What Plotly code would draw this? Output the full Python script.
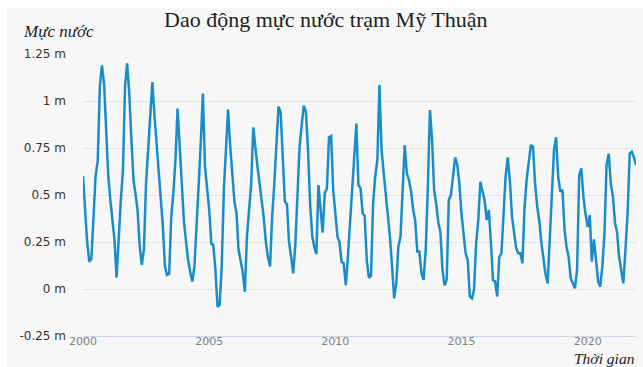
import pandas as pd
import plotly.graph_objects as go

# Monthly mean water level (m) at My Thuan station, January to December of each year
lv_2000 = [0.60, 0.42, 0.25, 0.145, 0.16, 0.38, 0.60, 0.68, 1.08, 1.19, 1.09, 0.85]
lv_2001 = [0.60, 0.47, 0.35, 0.26, 0.06, 0.31, 0.47, 0.63, 1.08, 1.20, 1.04, 0.80]
lv_2002 = [0.58, 0.50, 0.42, 0.225, 0.128, 0.21, 0.56, 0.74, 0.92, 1.10, 0.92, 0.78]
lv_2003 = [0.63, 0.50, 0.34, 0.12, 0.075, 0.08, 0.38, 0.51, 0.69, 0.96, 0.74, 0.53]
lv_2004 = [0.36, 0.25, 0.155, 0.09, 0.04, 0.12, 0.31, 0.55, 0.78, 1.04, 0.65, 0.53]
lv_2005 = [0.42, 0.24, 0.235, 0.10, -0.094, -0.085, 0.12, 0.53, 0.775, 0.955, 0.76, 0.60]
lv_2006 = [0.465, 0.40, 0.21, 0.15, 0.09, -0.015, 0.28, 0.42, 0.56, 0.86, 0.74, 0.65]
lv_2007 = [0.56, 0.47, 0.38, 0.25, 0.17, 0.12, 0.385, 0.56, 0.74, 0.97, 0.94, 0.69]
lv_2008 = [0.465, 0.45, 0.25, 0.17, 0.083, 0.24, 0.49, 0.757, 0.87, 0.975, 0.943, 0.74]
lv_2009 = [0.45, 0.28, 0.225, 0.186, 0.553, 0.44, 0.30, 0.51, 0.535, 0.807, 0.814, 0.527]
lv_2010 = [0.40, 0.278, 0.25, 0.145, 0.137, 0.02, 0.17, 0.35, 0.51, 0.70, 0.88, 0.553]
lv_2011 = [0.535, 0.40, 0.39, 0.15, 0.06, 0.07, 0.45, 0.60, 0.686, 1.085, 0.74, 0.62]
lv_2012 = [0.51, 0.385, 0.278, 0.12, -0.05, 0.03, 0.225, 0.278, 0.55, 0.766, 0.615, 0.58]
lv_2013 = [0.52, 0.42, 0.367, 0.199, 0.199, 0.083, 0.048, 0.207, 0.544, 0.952, 0.793, 0.527]
lv_2014 = [0.45, 0.35, 0.305, 0.10, 0.02, 0.05, 0.473, 0.50, 0.60, 0.70, 0.66, 0.56]
lv_2015 = [0.40, 0.28, 0.19, 0.154, -0.04, -0.05, -0.005, 0.243, 0.367, 0.57, 0.518, 0.473]
lv_2016 = [0.367, 0.42, 0.25, 0.048, 0.04, -0.04, 0.17, 0.19, 0.40, 0.60, 0.70, 0.578]
lv_2017 = [0.385, 0.30, 0.22, 0.19, 0.19, 0.137, 0.43, 0.58, 0.68, 0.766, 0.757, 0.56]
lv_2018 = [0.44, 0.36, 0.25, 0.15, 0.08, 0.03, 0.25, 0.52, 0.74, 0.807, 0.598, 0.518]
lv_2019 = [0.527, 0.314, 0.225, 0.17, 0.057, 0.03, 0.004, 0.10, 0.606, 0.642, 0.49, 0.40]
lv_2020 = [0.33, 0.394, 0.145, 0.264, 0.17, 0.04, 0.012, 0.12, 0.30, 0.66, 0.72, 0.56]
lv_2021 = [0.49, 0.35, 0.305, 0.17, 0.10, 0.03, 0.207, 0.40, 0.72, 0.73, 0.70, 0.66]

yearly = [lv_2000, lv_2001, lv_2002, lv_2003, lv_2004, lv_2005, lv_2006, lv_2007,
          lv_2008, lv_2009, lv_2010, lv_2011, lv_2012, lv_2013, lv_2014, lv_2015,
          lv_2016, lv_2017, lv_2018, lv_2019, lv_2020, lv_2021]
levels = [v for year in yearly for v in year]
months = pd.date_range("2000-01-01", periods=len(levels), freq="MS")

# Axis ticks
y_ticks = [-0.25, 0, 0.25, 0.5, 0.75, 1, 1.25]
y_labels = ["-0.25 m", "0 m", "0.25 m", "0.5 m", "0.75 m", "1 m", "1.25 m"]
x_ticks = ["2000-01-01", "2005-01-01", "2010-01-01", "2015-01-01", "2020-01-01"]
x_labels = ["2000", "2005", "2010", "2015", "2020"]

W, H = 643, 367
L, R, T, B = 83, 7, 54, 31
pw, ph = W - L - R, H - T - B


def px(x):
    return (x - L) / pw


def py(y):
    return (H - B - y) / ph


fig = go.Figure(
    go.Scatter(
        x=months, y=levels, mode="lines",
        line=dict(color="#1a8dc9", width=2.5),
        hoverinfo="x+y",
    )
)

serif = "Liberation Serif"
fig.update_layout(
    width=W, height=H,
    margin=dict(l=L, r=R, t=T, b=B, pad=0),
    paper_bgcolor="white",
    plot_bgcolor="rgba(0,0,0,0)",
    showlegend=False,
    shapes=[
        dict(type="rect", xref="paper", yref="paper", layer="below",
             x0=px(7), x1=px(W + 2), y0=py(H + 2), y1=py(8),
             fillcolor="#f7f7f7", line=dict(width=0)),
    ],
    annotations=[
        dict(text="Dao động mực nước trạm Mỹ Thuận", xref="paper", yref="paper",
             x=px(325), y=py(20), xanchor="center", yanchor="middle", showarrow=False,
             font=dict(family=serif, size=22, color="#222222")),
        dict(text="<i>Mực nước</i>", xref="paper", yref="paper",
             x=px(21), y=py(31), xanchor="left", yanchor="middle", showarrow=False,
             font=dict(family=serif, size=17, color="#222222")),
        dict(text="<i>Thời gian</i>", xref="paper", yref="paper",
             x=px(637), y=py(358), xanchor="right", yanchor="middle", showarrow=False,
             font=dict(family=serif, size=15.5, color="#222222")),
    ],
)

fig.update_xaxes(
    type="date", range=[months[0], months[-1]],
    tickvals=x_ticks, ticktext=x_labels,
    showgrid=False, zeroline=False,
    showline=True, linecolor="#ccd6eb", linewidth=1,
    ticks="outside", ticklen=5, tickcolor="#ccd6eb",
    ticklabelstandoff=-10,
    tickfont=dict(family="DejaVu Sans", size=11, color="#808080"),
)
fig.update_yaxes(
    range=[-0.25, 1.25],
    tickvals=y_ticks, ticktext=y_labels,
    showgrid=True, gridcolor="#e4e4e4", gridwidth=1,
    zeroline=False, showline=False, ticks="",
    ticklabelstandoff=16,
    tickfont=dict(family="DejaVu Sans", size=12, color="#333333"),
)

fig.write_html("out.html")
